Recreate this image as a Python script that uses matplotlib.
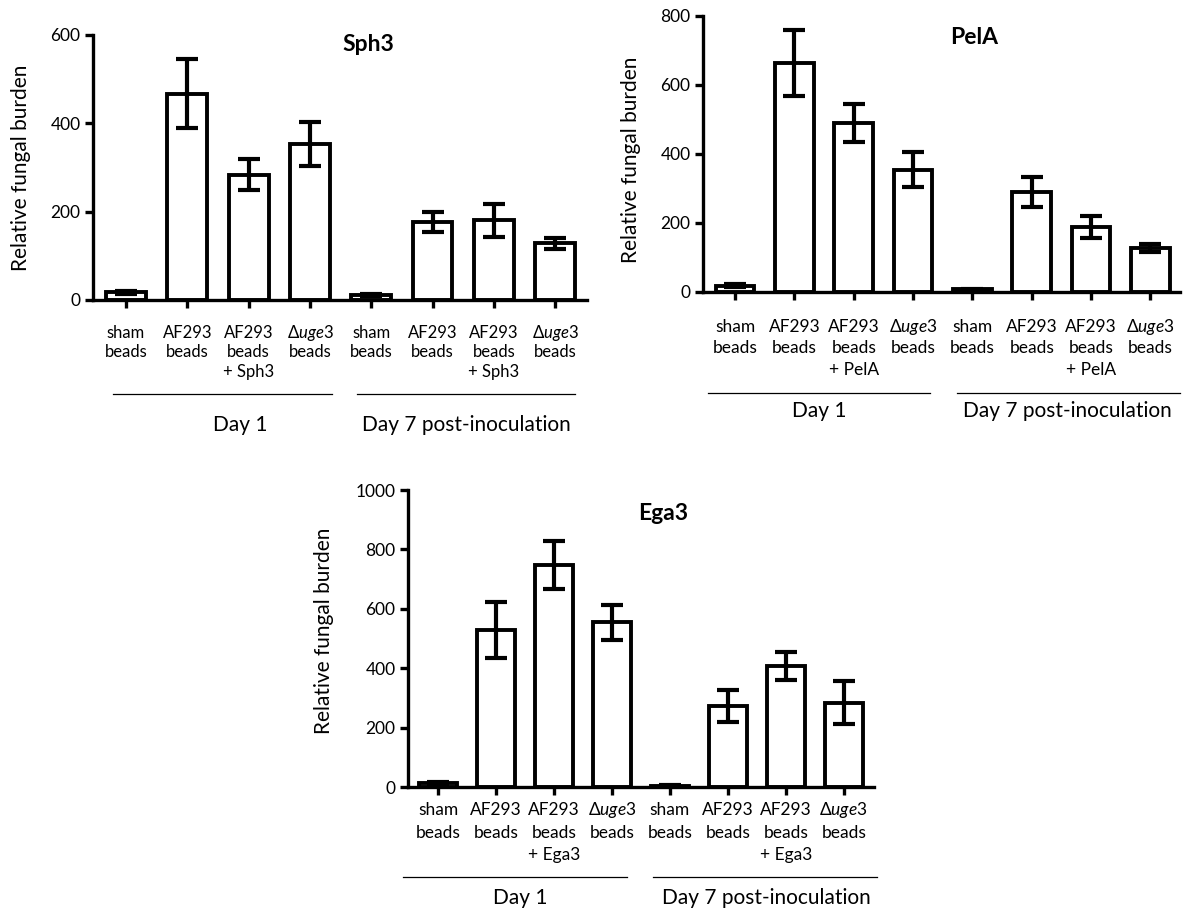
import matplotlib
matplotlib.use('Agg')
import matplotlib.pyplot as plt
import matplotlib.transforms as mtrans

plt.rcParams['font.family'] = ['Lato', 'DejaVu Sans']
plt.rcParams['mathtext.fontset'] = 'custom'
plt.rcParams['mathtext.rm'] = 'Lato'
plt.rcParams['mathtext.it'] = 'Lato:italic'

# data
sph3_vals = [17, 467, 284, 353, 11, 176, 180, 128]
sph3_err = [4, 78, 34, 49, 2, 23, 37, 12]
pela_vals = [18, 663, 488, 354, 8, 290, 188, 127]
pela_err = [5, 95, 55, 50, 2, 43, 31, 12]
ega3_vals = [14, 529, 748, 554, 5, 273, 408, 284]
ega3_err = [4, 94, 80, 58, 2, 53, 47, 73]

def make_labels(name):
    d = 'Δ$\\mathit{uge3}$\nbeads'
    return ['sham\nbeads', 'AF293\nbeads', 'AF293\nbeads\n+ ' + name, d] * 2

sph3_labels = make_labels('Sph3')
pela_labels = make_labels('PelA')
ega3_labels = make_labels('Ega3')
group_names = ['Day 1', 'Day 7 post-inoculation']

fig = plt.figure(figsize=(11.87, 9.19), dpi=100)


def panel(rect, vals, err, labels, title, ymax, xlim, tfs, first, step,
          ylab_x, ylab_y, title_xy, line_y, grp_y, lines_x, grp_x):
    ax = fig.add_axes(rect)
    x = list(range(len(vals)))
    ax.bar(x, vals, width=0.65, color='white', edgecolor='black', linewidth=2.8, zorder=2)
    ax.errorbar(x, vals, yerr=err, fmt='none', ecolor='black', elinewidth=3,
                capsize=8, capthick=3, zorder=3)
    ax.set_xlim(*xlim)
    ax.set_ylim(0, ymax)
    ax.set_yticks(range(0, ymax + 1, 200))
    ax.set_xticks(x)
    for s in ['top', 'right']:
        ax.spines[s].set_visible(False)
    for s in ['left', 'bottom']:
        ax.spines[s].set_linewidth(2.4)
    ax.tick_params(axis='y', length=6, width=2.4, labelsize=12.5, pad=3)
    ax.tick_params(axis='x', length=5.5, width=2.4, labelbottom=False)
    # category labels, one line at a time so the rows line up
    for i, lab in enumerate(labels):
        for j, line in enumerate(lab.split('\n')):
            ax.annotate(line, xy=(i, 0), xycoords=('data', 'axes fraction'),
                        xytext=(0, -(first + j * step)), textcoords='offset pixels',
                        ha='center', va='baseline', fontsize=tfs, annotation_clip=False)
    ax.set_ylabel('Relative fungal burden', fontsize=15)
    ax.yaxis.set_label_coords(ylab_x, ylab_y)
    ax.text(title_xy[0], title_xy[1], title, transform=ax.transAxes, fontsize=16.5,
            fontweight='bold', ha='center', va='center')
    tr = mtrans.blended_transform_factory(ax.transData, ax.transAxes)
    for (a, b), gx, g in zip(lines_x, grp_x, group_names):
        ax.plot([a, b], [line_y, line_y], color='black', lw=0.9, transform=tr, clip_on=False)
        ax.text(gx, grp_y, g, transform=tr, fontsize=15, ha='center', va='center')
    return ax


panel([0.0783, 0.6736, 0.4162, 0.2884], sph3_vals, sph3_err, sph3_labels, 'Sph3',
      600, (-0.54, 7.52), 12, 38, 19.5, -0.125, 0.5, (0.557, 0.962),
      -0.355, -0.472, [(-0.21, 3.36), (3.77, 7.32)], [1.86, 5.56])

panel([0.5923, 0.6823, 0.4019, 0.3007], pela_vals, pela_err, pela_labels, 'PelA',
      800, (-0.54, 7.5), 12.5, 40, 21.5, -0.13, 0.48, (0.568, 0.92),
      -0.366, -0.431, [(-0.46, 3.29), (3.74, 7.5)], [1.42, 5.6])

panel([0.3437, 0.1436, 0.3926, 0.3232], ega3_vals, ega3_err, ega3_labels, 'Ega3',
      1000, (-0.52, 7.52), 12.5, 28, 22.5, -0.158, 0.525, (0.547, 0.922),
      -0.303, -0.374, [(-0.6, 3.26), (3.71, 7.57)], [1.41, 5.67])

fig.savefig('out.png', dpi=100)
